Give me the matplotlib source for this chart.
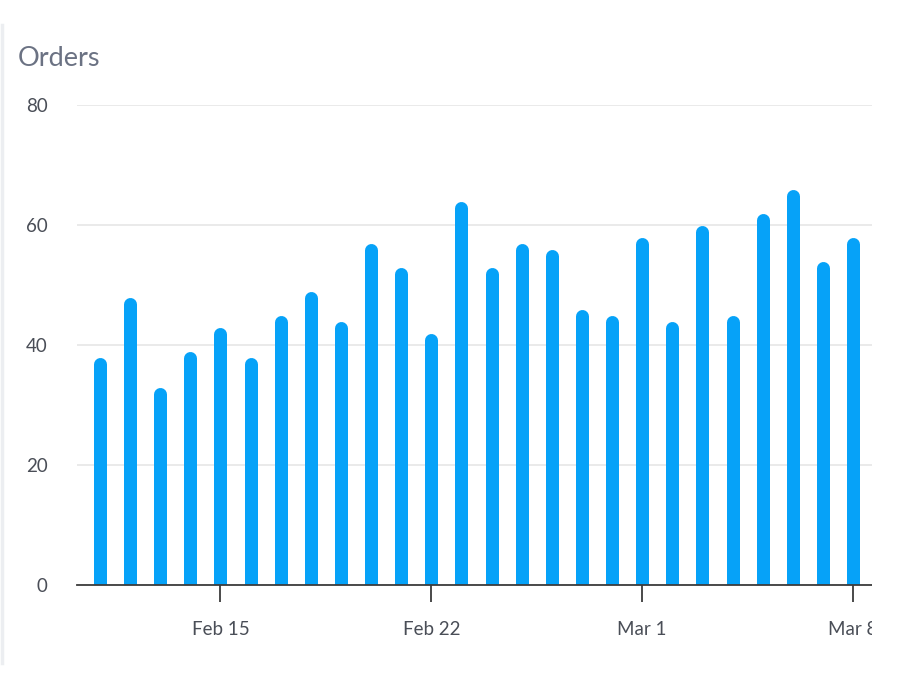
import matplotlib
matplotlib.use("Agg")
import matplotlib.pyplot as plt
import matplotlib.dates as mdates
from matplotlib.lines import Line2D
from matplotlib.patches import Rectangle
import numpy as np
import datetime as dt

# ---- data ----
start_date = "2021-02-11"
orders = [38, 48, 33, 39, 43, 38, 45, 49, 44, 57, 53, 42, 64,
          53, 57, 56, 46, 45, 58, 44, 60, 45, 62, 66, 54, 58]
tick_dates = ["2021-02-15", "2021-02-22", "2021-03-01", "2021-03-08"]
tick_labels = ["Feb 15", "Feb 22", "Mar 1", "Mar 8"]
y_ticks = [0, 20, 40, 60, 80]
title = "Orders"

dates = [dt.date.fromisoformat(start_date) + dt.timedelta(days=i) for i in range(len(orders))]
xnum = mdates.date2num(dates)

plt.rcParams['font.family'] = ['Lato', 'DejaVu Sans']

W, H = 900, 700
fig = plt.figure(figsize=(9, 7), dpi=100)
ax = fig.add_axes([77 / W, (H - 585) / H, 795 / W, 480 / H])

ax.set_xlim(xnum[0] - 0.76, xnum[-1] + 0.63)
ax.set_ylim(0, 80)

bar_color = "#06A2F8"
bar_px = 13
lw_pt = bar_px * 72 / 100
# radius of rounded cap in data units
r_data = (bar_px / 2) / (480 / 80)
tops = np.array(orders) - r_data
ax.vlines(xnum, 0, tops, colors=bar_color, linewidth=lw_pt, capstyle='round', zorder=3)

# grid
ax.set_yticks(y_ticks)
ax.grid(axis='y', color='#e6e6e6', linewidth=1.2, zorder=0)
ax.set_axisbelow(True)
for s in ['top', 'right', 'left']:
    ax.spines[s].set_visible(False)
ax.spines['bottom'].set_color('#3c3c3c')
ax.spines['bottom'].set_linewidth(1.3)
ax.spines['bottom'].set_zorder(4)

ax.tick_params(axis='y', length=0, pad=21, labelsize=13.5, labelcolor='#4a4e57')
ax.set_xticks(mdates.date2num([dt.date.fromisoformat(d) for d in tick_dates]))
ax.set_xticklabels(tick_labels)
ax.tick_params(axis='x', length=12, width=1.3, color='#3c3c3c', pad=14,
               labelsize=13.5, labelcolor='#4a4e57')

fig.text(18 / W, 1 - 58 / H, title, fontsize=19.5, color='#6b7283', va='center', ha='left')

# left panel border
fig.add_artist(Line2D([1.5 / W, 1.5 / W], [1 - 25 / H, 1 - 663 / H], color='#eceef1', linewidth=2.5))

# clip area right of the chart
fig.add_artist(Rectangle((872 / W, 0), 1, 1 - 560 / H, transform=fig.transFigure,
                         facecolor='white', edgecolor='none', zorder=10))

fig.savefig("out.png", dpi=100, facecolor='white')
